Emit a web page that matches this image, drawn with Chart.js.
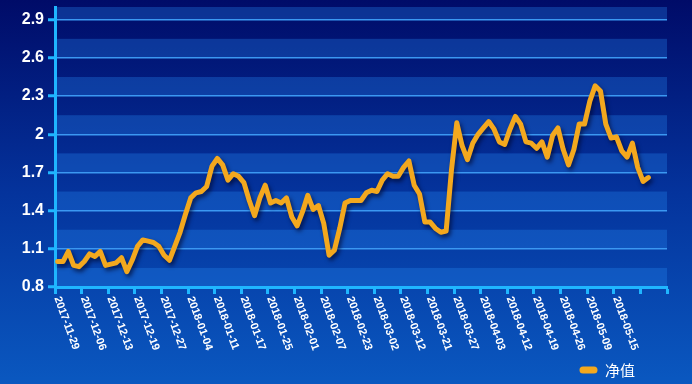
<!DOCTYPE html>
<html>
<head>
<meta charset="utf-8">
<script src="https://cdn.jsdelivr.net/npm/chart.js@4.4.0/dist/chart.umd.min.js"></script>
<style>
html,body{margin:0;padding:0;background:#0a3a9a;overflow:hidden;}
#wrap{width:692px;height:384px;position:relative;}
</style>
</head>
<body>
<div id="wrap"><canvas id="c" width="692" height="384"></canvas></div>
<script>
// ---- data ----
const seriesName = '净值';
const xTickLabels = ['2017-11-29','2017-12-06','2017-12-13','2017-12-19','2017-12-27','2018-01-04','2018-01-11','2018-01-17','2018-01-25','2018-02-01','2018-02-07','2018-02-23','2018-03-02','2018-03-12','2018-03-21','2018-03-27','2018-04-03','2018-04-12','2018-04-19','2018-04-26','2018-05-09','2018-05-15','',''];
const pointsPerTick = 5;
const navValues = [
  1.00,1.00,1.08,0.97,0.96,1.00,1.06,1.04,1.08,0.97,
  0.98,0.99,1.03,0.92,1.01,1.12,1.17,1.16,1.15,1.12,
  1.05,1.01,1.12,1.23,1.37,1.50,1.54,1.55,1.59,1.75,
  1.81,1.76,1.64,1.69,1.67,1.62,1.48,1.36,1.50,1.60,
  1.46,1.48,1.46,1.50,1.35,1.28,1.39,1.52,1.41,1.44,
  1.30,1.05,1.09,1.26,1.46,1.48,1.48,1.48,1.54,1.56,
  1.55,1.64,1.69,1.67,1.67,1.74,1.79,1.60,1.53,1.31,
  1.31,1.26,1.23,1.24,1.72,2.09,1.91,1.80,1.93,2.00,
  2.05,2.10,2.04,1.94,1.92,2.04,2.14,2.08,1.94,1.93,
  1.89,1.94,1.82,1.99,2.05,1.88,1.76,1.88,2.08,2.08,
  2.26,2.38,2.34,2.08,1.97,1.98,1.87,1.82,1.93,1.74,
  1.63,1.66
];
const yMajorTicks = [0.8,1.1,1.4,1.7,2,2.3,2.6,2.9];
const yGridValues = [0.8,0.95,1.1,1.25,1.4,1.55,1.7,1.85,2,2.15,2.3,2.45,2.6,2.75,2.9,3.0];
const yMin = 0.8, yMax = 3.0;

// ---- style ----
const lineColor = '#f3a81e';
const axisColor = '#1fb6ff';
const gridColor = '#3b98f2';

const bgPlugin = {
  id: 'bg',
  beforeDraw(chart) {
    const ctx = chart.ctx, ca = chart.chartArea, ys = chart.scales.y;
    ctx.save();
    const g = ctx.createLinearGradient(0, 0, 0, chart.height);
    g.addColorStop(0, '#000b68');
    g.addColorStop(0.5, '#04339c');
    g.addColorStop(1, '#0a58c0');
    ctx.fillStyle = g;
    ctx.fillRect(0, 0, chart.width, chart.height);
    ctx.fillStyle = 'rgba(40,140,245,0.30)';
    for (let k = 0; k < yGridValues.length - 1; k += 2) {
      const y1 = ys.getPixelForValue(yGridValues[k]);
      const y2 = ys.getPixelForValue(yGridValues[k + 1]);
      ctx.fillRect(ca.left, y2, ca.right - ca.left, y1 - y2);
    }
    ctx.restore();
  }
};

const shadowPlugin = {
  id: 'lineShadow',
  beforeDatasetsDraw(chart) {
    const ctx = chart.ctx;
    ctx.save();
    ctx.shadowColor = 'rgba(0,5,40,0.65)';
    ctx.shadowBlur = 4;
    ctx.shadowOffsetX = 2;
    ctx.shadowOffsetY = 3;
  },
  afterDatasetsDraw(chart) {
    chart.ctx.restore();
  }
};

const xLabelPlugin = {
  id: 'xLabels',
  afterDraw(chart) {
    const xs = chart.scales.x, ctx = chart.ctx;
    ctx.save();
    ctx.font = 'bold 11px "Liberation Sans", Arial, sans-serif';
    ctx.fillStyle = '#ffffff';
    ctx.textAlign = 'left';
    ctx.textBaseline = 'middle';
    xs.ticks.forEach((t, k) => {
      const lbl = xTickLabels[k];
      if (!lbl) return;
      const px = xs.getPixelForValue(t.value);
      ctx.save();
      ctx.translate(px + 2, chart.chartArea.bottom + 10);
      ctx.rotate(70 * Math.PI / 180);
      ctx.fillText(lbl, 0, 0);
      ctx.restore();
    });
    ctx.restore();
  }
};

const chart = new Chart(document.getElementById('c'), {
  type: 'line',
  data: {
    datasets: [{
      label: seriesName,
      data: navValues.map((v, i) => ({ x: i + 0.5, y: v })),
      borderColor: lineColor,
      backgroundColor: lineColor,
      borderWidth: 5,
      borderJoinStyle: 'round',
      borderCapStyle: 'round',
      pointRadius: 0,
      tension: 0,
      fill: false
    }]
  },
  options: {
    responsive: false,
    animation: false,
    devicePixelRatio: 1,
    layout: { padding: { top: 7, right: 25, left: 0, bottom: -3.5 } },
    plugins: {
      tooltip: { enabled: false },
      legend: {
        position: 'bottom',
        align: 'end',
        labels: {
          boxWidth: 18,
          boxHeight: 7,
          padding: 32,
          color: '#ffffff',
          font: { family: '"Noto Sans CJK SC", "Noto Sans", sans-serif', size: 15 },
          generateLabels: () => [{
            text: seriesName, fillStyle: lineColor, strokeStyle: lineColor,
            lineWidth: 0, fontColor: '#ffffff', borderRadius: 3.5, datasetIndex: 0, hidden: false
          }]
        }
      }
    },
    scales: {
      x: {
        type: 'linear',
        min: 0,
        max: (xTickLabels.length - 1) * pointsPerTick,
        afterBuildTicks(s) { s.ticks = xTickLabels.map((_, k) => ({ value: k * pointsPerTick })); },
        afterFit(s) { s.height = 43.5; s.paddingLeft = 0; s.paddingRight = 0; },
        ticks: { display: false },
        grid: { drawOnChartArea: false, drawTicks: true, tickLength: 7, tickColor: axisColor, tickWidth: 3 },
        border: { display: true, color: axisColor, width: 3 }
      },
      y: {
        min: yMin,
        max: yMax,
        afterBuildTicks(s) { s.ticks = yGridValues.map(v => ({ value: v })); },
        afterFit(s) { s.width = 55; s.paddingTop = 0; s.paddingBottom = 0; },
        ticks: {
          callback: (v) => yMajorTicks.includes(v) ? String(v) : '',
          color: '#ffffff',
          font: { family: '"Liberation Sans", Arial, sans-serif', size: 16, weight: 'bold' },
          padding: 4
        },
        grid: {
          color: gridColor,
          lineWidth: 1.5,
          tickLength: 7,
          tickWidth: 3,
          tickColor: (c) => (c.tick && yMajorTicks.includes(c.tick.value)) ? axisColor : 'rgba(0,0,0,0)'
        },
        border: { display: true, color: axisColor, width: 3 }
      }
    }
  },
  plugins: [bgPlugin, shadowPlugin, xLabelPlugin]
});
</script>
</body>
</html>
